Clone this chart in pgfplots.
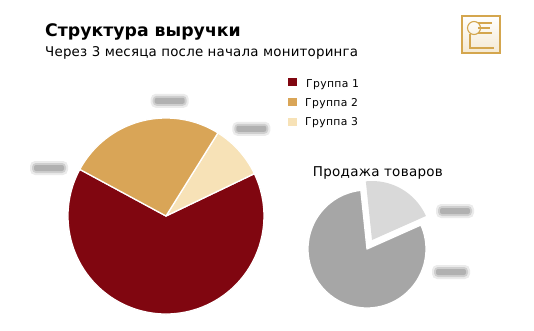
\documentclass[border=0pt]{standalone}
\usepackage{pgfplots}
\pgfplotsset{compat=1.18}
\usepackage{fontspec}
\setmainfont{DejaVu Sans}
\definecolor{gA}{HTML}{800610}
\definecolor{gB}{HTML}{D9A557}
\definecolor{gC}{HTML}{F7E2B7}
\definecolor{sA}{HTML}{A6A6A6}
\definecolor{sB}{HTML}{D9D9D9}
\definecolor{gold}{HTML}{D4A64E}
\definecolor{blurc}{HTML}{8E8E8E}
% slice: cx, cy, r, start angle, percent, colour
\newcommand\pieslice[6]{%
  \fill[#6, draw=white, line width=1.3pt, line join=round]
    (axis cs:#1,#2) -- ++(#4:#3pt) arc[start angle=#4, delta angle={#5*3.6}, radius=#3pt] -- cycle;}
\newcommand\blurbox[2]{%
  \fill[blurc, opacity=0.18, rounded corners=5pt] (axis cs:#1-19,#2-7) rectangle (axis cs:#1+19,#2+7);
  \fill[blurc, opacity=0.3, rounded corners=4pt] (axis cs:#1-17,#2-5) rectangle (axis cs:#1+17,#2+5);
  \fill[blurc, opacity=0.45, rounded corners=2pt] (axis cs:#1-15,#2-3) rectangle (axis cs:#1+15,#2+3);}
\begin{document}
\begin{tikzpicture}
\path[use as bounding box] (0,0) rectangle (534pt,330pt);
\begin{axis}[scale only axis, width=534pt, height=330pt,
  xmin=0, xmax=534, ymin=0, ymax=330, enlargelimits=false,
  axis lines=none, clip=false]
% --- titles
\node[inner sep=0pt, anchor=base west, font=\fontsize{17.3}{20}\selectfont\bfseries] at (axis cs:45,293.3) {Структура выручки};
\node[inner sep=0pt, anchor=base west, font=\fontsize{13.4}{14}\selectfont\addfontfeature{LetterSpace=1.5}] at (axis cs:45,274) {Через 3 месяца после начала мониторинга};
% --- main pie (Группа 1 = 65, Группа 3 = 9, Группа 2 = 26)
\pieslice{166}{114}{98}{151.6}{65}{gA}
\pieslice{166}{114}{98}{25.6}{9}{gC}
\pieslice{166}{114}{98}{58.0}{26}{gB}
% --- legend
\fill[gA] (axis cs:288,244) rectangle (axis cs:296.5,252.5);
\fill[gB] (axis cs:288,224) rectangle (axis cs:296.5,232.5);
\fill[gC] (axis cs:288,204) rectangle (axis cs:296.5,212.5);
\node[inner sep=0pt, anchor=base west, font=\fontsize{10.8}{12}\selectfont\addfontfeature{LetterSpace=3}] at (axis cs:306,243) {Группа 1};
\node[inner sep=0pt, anchor=base west, font=\fontsize{10.8}{12}\selectfont\addfontfeature{LetterSpace=3}] at (axis cs:305,224) {Группа 2};
\node[inner sep=0pt, anchor=base west, font=\fontsize{10.8}{12}\selectfont\addfontfeature{LetterSpace=3}] at (axis cs:305,205) {Группа 3};
% --- second pie (80 / 20, the smaller slice pulled out)
\node[inner sep=0pt, anchor=base west, font=\fontsize{13.5}{14}\selectfont\addfontfeature{LetterSpace=2}] at (axis cs:312.7,153.3) {Продажа товаров};
\pieslice{367}{81}{59}{96}{80}{sA}
\fill[sB] (axis cs:372,90) -- ++(24:59pt) arc[start angle=24, delta angle={20*3.6}, radius=59pt] -- cycle;
% --- blurred data labels
\blurbox{169.7}{229.2}
\blurbox{251.3}{201.2}
\blurbox{49}{162}
\blurbox{455}{119}
\blurbox{451}{58}
% --- logo
\shade[top color=white, bottom color=gold!25] (axis cs:462,277) rectangle (axis cs:500,314);
\draw[gold, line width=1.2pt] (axis cs:462,277) rectangle (axis cs:500,314);
\draw[gold, line width=1.1pt] (axis cs:474,302) circle[radius=6.5pt];
\draw[gold, line width=1.1pt] (axis cs:478,307) -- (axis cs:492,307)
  (axis cs:478,302) -- (axis cs:490,302) (axis cs:478,297) -- (axis cs:492,297);
\draw[gold, line width=1.1pt] (axis cs:470,296) -- (axis cs:470,282) -- (axis cs:494,282);
\end{axis}
\end{tikzpicture}
\end{document}
